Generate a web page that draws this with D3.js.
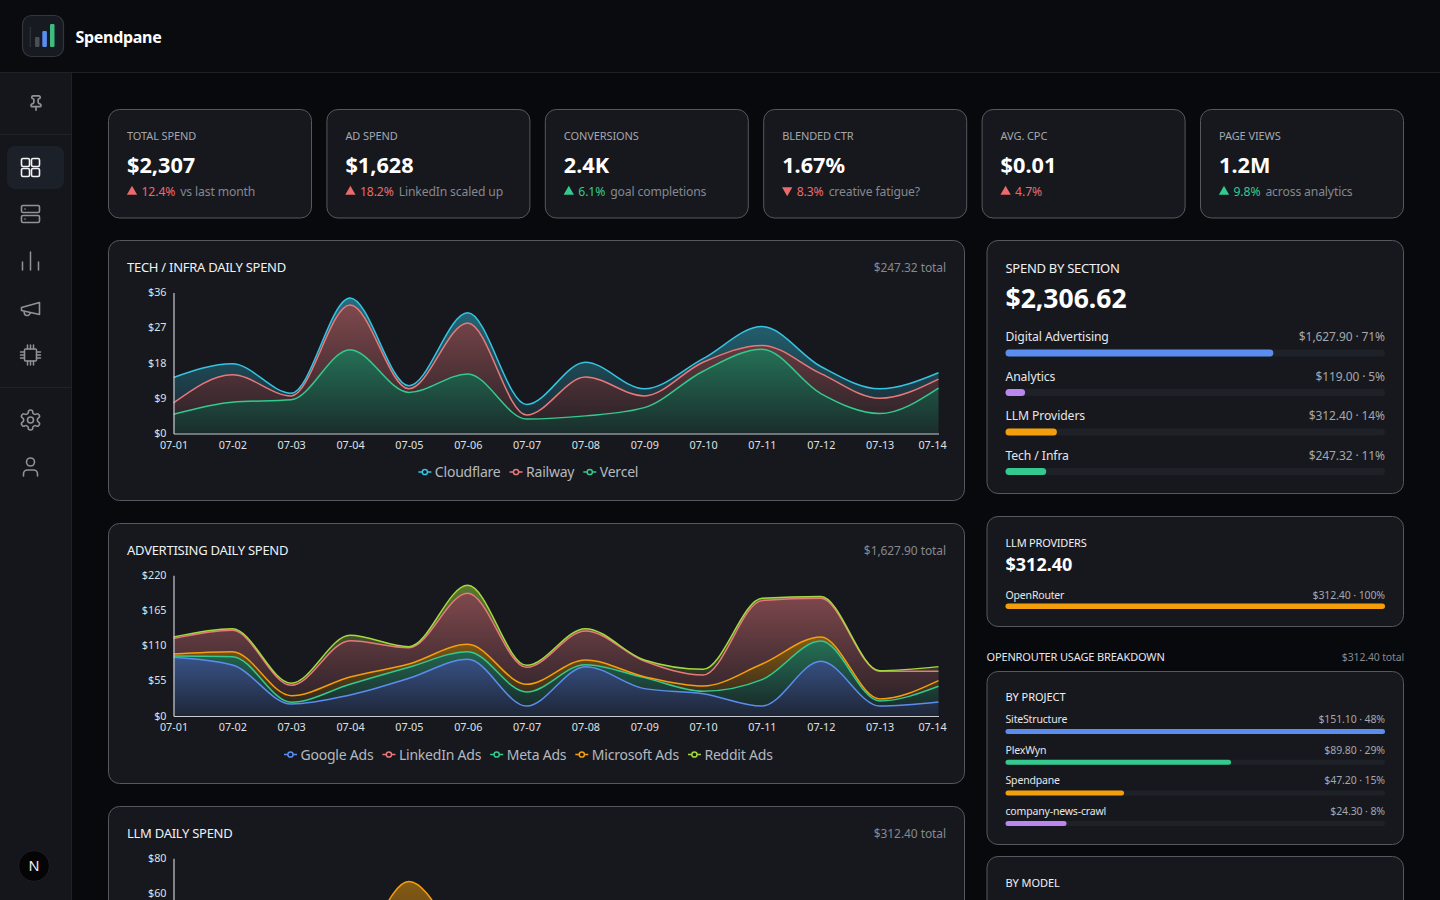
<!DOCTYPE html>
<html>
<head>
<meta charset="utf-8">
<script src="https://cdnjs.cloudflare.com/ajax/libs/d3/7.8.5/d3.min.js"></script>
<style>
  html, body { margin: 0; height: 100%; overflow: hidden; background: #08090d; }
  svg { display: block; font-family: "Noto Sans", sans-serif; }
  .tick text { font-family: "Noto Sans", sans-serif; }
</style>
</head>
<body>
<script>
var days = ['07-01','07-02','07-03','07-04','07-05','07-06','07-07','07-08','07-09','07-10','07-11','07-12','07-13','07-14'];

// stacked amounts per day
var vercel     = [4.9, 8.0, 8.6, 21.4, 10.5, 15.2, 3.7, 4.5, 6.6, 15.9, 21.5, 10.2, 5.1, 11.6];
var railway    = [2.9, 7.0, 1.0, 11.4, 0.9, 13.0, 1.0, 9.9, 3.0, 2.3, 1.0, 5.1, 3.9, 2.3];
var cloudflare = [6.5, 2.8, 0.7, 1.8, 0.8, 2.6, 2.7, 3.8, 1.8, 0.9, 4.8, 1.8, 2.4, 1.6];

var googleAds    = [91.8, 79.8, 18.8, 32.8, 58.9, 88.6, 15.6, 77.2, 42.8, 34.9, 15.6, 85.5, 15.6, 21.9];
var metaAds      = [2.0, 13.0, 2.6, 16.7, 17.2, 12.0, 21.9, 3.1, 17.2, 3.7, 41.2, 31.8, 7.9, 24.5];
var microsoftAds = [3.2, 7.8, 10.4, 11.5, 5.2, 11.4, 12.0, 7.3, 1.5, 8.3, 24.5, 6.3, 3.1, 8.9];
var linkedinAds  = [24.0, 33.4, 16.2, 56.8, 25.6, 79.9, 26.6, 45.4, 24.5, 17.2, 99.1, 60.4, 43.3, 14.6];
var redditAds    = [2.6, 2.6, 3.1, 8.4, 1.5, 12.5, 3.1, 3.6, 1.6, 8.9, 3.6, 2.7, 1.0, 7.3];

// only the 07-05 peak of this one is on screen, the rest is a guess
var openRouter = [12, 18, 14, 22, 66.6, 28, 12, 20, 15, 14, 22, 25, 20, 24];

var kpiLabels = ['TOTAL SPEND','AD SPEND','CONVERSIONS','BLENDED CTR','AVG. CPC','PAGE VIEWS'];
var kpiValues = ['$2,307','$1,628','2.4K','1.67%','$0.01','1.2M'];
var kpiDeltas = ['12.4%','18.2%','6.1%','8.3%','4.7%','9.8%'];
var kpiNotes  = ['vs last month','LinkedIn scaled up','goal completions','creative fatigue?','','across analytics'];
var kpiDirs   = ['up','up','up','down','up','up'];
var kpiGood   = [false,false,true,false,false,true];

var sectionNames  = ['Digital Advertising','Analytics','LLM Providers','Tech / Infra'];
var sectionValues = [1627.90, 119.00, 312.40, 247.32];
var sectionShares = ['71%','5%','14%','11%'];

var projectNames  = ['SiteStructure','PlexWyn','Spendpane','company-news-crawl'];
var projectValues = [151.10, 89.80, 47.20, 24.30];
var projectShares = ['48%','29%','15%','8%'];

var BLUE = '#5b8def', RED = '#e8797b', GREEN = '#34c98f', CYAN = '#35c3e0', ORANGE = '#f59e0b', LIME = '#a3d93f', PURPLE = '#bb86f0';
var CARD = '#16181e', EDGE = '#55585f';

var svg = d3.select('body').append('svg').attr('width', 1440).attr('height', 900);
var defs = svg.append('defs');
var money = d3.format('$,.2f');

function card(x0, y0, x1, y1) {
  svg.append('rect')
    .attr('x', x0 + 0.5).attr('y', y0 + 0.5)
    .attr('width', x1 - x0 - 1).attr('height', y1 - y0 - 1)
    .attr('rx', 11)
    .attr('fill', CARD)
    .attr('stroke', EDGE);
}

function label(x, y, str, size, color, opts) {
  opts = opts || {};
  return svg.append('text')
    .attr('x', x).attr('y', y)
    .attr('font-size', size)
    .attr('fill', color)
    .attr('font-weight', opts.weight || 400)
    .attr('text-anchor', opts.anchor || 'start')
    .attr('letter-spacing', opts.ls || 0)
    .text(str);
}

// ---- shell
svg.append('rect').attr('width', 1440).attr('height', 72).attr('fill', '#0a0b0f');
svg.append('rect').attr('y', 72).attr('width', 72).attr('height', 828).attr('fill', '#14161c');
svg.append('line').attr('x1', 0).attr('x2', 1440).attr('y1', 72.5).attr('y2', 72.5).attr('stroke', '#1f2127');
svg.append('line').attr('x1', 71.5).attr('x2', 71.5).attr('y1', 72).attr('y2', 900).attr('stroke', '#1f2127');
svg.append('line').attr('x1', 0).attr('x2', 71).attr('y1', 134.5).attr('y2', 134.5).attr('stroke', '#1f2127');
svg.append('line').attr('x1', 0).attr('x2', 71).attr('y1', 387.5).attr('y2', 387.5).attr('stroke', '#1f2127');

// logo
svg.append('rect').attr('x', 22.5).attr('y', 15.5).attr('width', 41).attr('height', 41).attr('rx', 9)
  .attr('fill', '#171a20').attr('stroke', '#33363d').attr('stroke-width', 1.2);
svg.append('rect').attr('x', 29.5).attr('y', 27).attr('width', 1.6).attr('height', 20).attr('fill', '#2b2e35');
svg.append('rect').attr('x', 35).attr('y', 37).attr('width', 4.5).attr('height', 10).attr('rx', 1.2).attr('fill', '#4b4f57');
svg.append('rect').attr('x', 42.3).attr('y', 31).attr('width', 4.6).attr('height', 16).attr('rx', 1.2).attr('fill', BLUE);
svg.append('rect').attr('x', 50).attr('y', 24).attr('width', 4.5).attr('height', 23).attr('rx', 1.2).attr('fill', '#3ebd80');
label(75.5, 42.5, 'Spendpane', 16, '#ffffff', { weight: 700, ls: -0.3 });

// sidebar icons, lucide style outlines on a 24 box
svg.append('rect').attr('x', 7).attr('y', 146).attr('width', 57).attr('height', 43).attr('rx', 8).attr('fill', '#1c2028');

function icon(cx, cy, size, color, sw, draw) {
  var k = size / 24;
  var g = svg.append('g')
    .attr('transform', 'translate(' + (cx - size / 2) + ',' + (cy - size / 2) + ') scale(' + k + ')')
    .attr('fill', 'none').attr('stroke', color).attr('stroke-width', sw)
    .attr('stroke-linecap', 'round').attr('stroke-linejoin', 'round');
  draw.forEach(function (p) { g.append('path').attr('d', p); });
}
function box(x, y, w, h, r) {
  return 'M' + (x + r) + ' ' + y + 'h' + (w - 2 * r) + 'a' + r + ' ' + r + ' 0 0 1 ' + r + ' ' + r + 'v' + (h - 2 * r) +
    'a' + r + ' ' + r + ' 0 0 1 -' + r + ' ' + r + 'h-' + (w - 2 * r) + 'a' + r + ' ' + r + ' 0 0 1 -' + r + ' -' + r +
    'v-' + (h - 2 * r) + 'a' + r + ' ' + r + ' 0 0 1 ' + r + ' -' + r + 'z';
}
var MUTED = '#8f9299';
icon(36, 103, 17, MUTED, 2.4, ['M12 17v5','M9 10.76a2 2 0 0 1-1.11 1.79l-1.78.9A2 2 0 0 0 5 15.24V16a1 1 0 0 0 1 1h12a1 1 0 0 0 1-1v-.76a2 2 0 0 0-1.11-1.79l-1.78-.9A2 2 0 0 1 15 10.76V7a1 1 0 0 1 1-1 2 2 0 0 0 0-4H8a2 2 0 0 0 0 4 1 1 0 0 1 1 1z']);
icon(30.5, 167.5, 24, '#f2f3f5', 1.6, [box(3,3,8,8,1.5), box(13,3,8,8,1.5), box(3,13,8,8,1.5), box(13,13,8,8,1.5)]);
icon(30.5, 214, 24, MUTED, 1.6, [box(3,3.5,18,7,1.5), box(3,13.5,18,7,1.5), 'M6.5 7h.01', 'M6.5 17h.01']);
icon(30.5, 261, 24, MUTED, 1.5, ['M4 21v-8', 'M12 21V3', 'M20 21v-8']);
icon(30.5, 308.5, 24, MUTED, 1.6, ['m3 11 18-5v12L3 14v-3z', 'M11.6 16.8a3 3 0 1 1-5.8-1.6']);
icon(30.5, 355, 24, MUTED, 1.5, [box(6,6,12,12,1), 'M9 2v4','M12 2v4','M15 2v4','M9 18v4','M12 18v4','M15 18v4','M2 9h4','M2 12h4','M2 15h4','M18 9h4','M18 12h4','M18 15h4']);
icon(30.5, 420, 24, MUTED, 1.6, ['M12.22 2h-.44a2 2 0 0 0-2 2v.18a2 2 0 0 1-1 1.73l-.43.25a2 2 0 0 1-2 0l-.15-.08a2 2 0 0 0-2.73.73l-.22.38a2 2 0 0 0 .73 2.73l.15.1a2 2 0 0 1 1 1.72v.51a2 2 0 0 1-1 1.74l-.15.09a2 2 0 0 0-.73 2.73l.22.38a2 2 0 0 0 2.73.73l.15-.08a2 2 0 0 1 2 0l.43.25a2 2 0 0 1 1 1.73V20a2 2 0 0 0 2 2h.44a2 2 0 0 0 2-2v-.18a2 2 0 0 1 1-1.73l.43-.25a2 2 0 0 1 2 0l.15.08a2 2 0 0 0 2.73-.73l.22-.39a2 2 0 0 0-.73-2.73l-.15-.08a2 2 0 0 1-1-1.74v-.5a2 2 0 0 1 1-1.74l.15-.09a2 2 0 0 0 .73-2.73l-.22-.38a2 2 0 0 0-2.73-.73l-.15.08a2 2 0 0 1-2 0l-.43-.25a2 2 0 0 1-1-1.73V4a2 2 0 0 0-2-2z','M15 12a3 3 0 1 1-6 0 3 3 0 0 1 6 0z']);
icon(30.5, 467, 24, MUTED, 1.6, ['M19 21v-2a4 4 0 0 0-4-4H9a4 4 0 0 0-4 4v2','M16 7a4 4 0 1 1-8 0 4 4 0 0 1 8 0z']);

// next badge
svg.append('circle').attr('cx', 34).attr('cy', 866).attr('r', 15.5).attr('fill', '#050505').attr('stroke', '#1d1f24');
label(34, 871, 'N', 14.5, '#f2f2f2', { anchor: 'middle' });

// ---- kpi row
var kpiLeft  = [108, 326.4, 544.8, 763.2, 981.6, 1200];
kpiLabels.forEach(function (name, i) {
  var x = kpiLeft[i] + 19;
  var tone = kpiGood[i] ? GREEN : '#ea6a6e';
  card(kpiLeft[i], 109, kpiLeft[i] + 204, 218.5);
  label(x, 140, name, 11, '#a4a7ad', { ls: -0.1 });
  label(x, 172.5, kpiValues[i], 21.7, '#ffffff', { weight: 700 });
  svg.append('path')
    .attr('d', d3.symbol(d3.symbolTriangle, 46))
    .attr('transform', 'translate(' + (x + 5) + ',' + (kpiDirs[i] === 'up' ? 191.7 : 190.3) + ')' + (kpiDirs[i] === 'up' ? '' : ' rotate(180)'))
    .attr('fill', tone);
  var d = label(x + 14.5, 195.5, kpiDeltas[i], 12.2, tone, { ls: -0.1 });
  label(x + 14.5 + d.node().getComputedTextLength() + 5, 195.5, kpiNotes[i], 12.2, '#85888f', { ls: -0.15 });
});

// ---- stacked area panels
function areaPanel(opts) {
  card(108, opts.top, 965, opts.bottom);
  label(127, opts.top + 32.4, opts.title, 13, '#f0f1f3', { ls: -0.27 });
  label(946, opts.top + 32.4, opts.total, 12, '#85888f', { anchor: 'end', ls: -0.08 });

  var x = d3.scalePoint().domain(days).range([173.5, 938.5]);
  var y = d3.scaleLinear().domain([0, opts.max]).range([opts.y0, opts.y1]);

  var rows = days.map(function (d, i) {
    var r = { day: d };
    opts.series.forEach(function (s) { r[s.name] = s.values[i]; });
    return r;
  });
  var stacked = d3.stack().keys(opts.series.map(function (s) { return s.name; }))(rows);

  var area = d3.area()
    .x(function (d) { return x(d.data.day); })
    .y0(function (d) { return y(d[0]); })
    .y1(function (d) { return y(d[1]); })
    .curve(d3.curveMonotoneX);
  var line = area.lineY1();

  var g = svg.append('g');
  stacked.forEach(function (layer, i) {
    var s = opts.series[i];
    var id = opts.id + i;
    var grad = defs.append('linearGradient').attr('id', id).attr('x1', 0).attr('x2', 0).attr('y1', 0).attr('y2', 1);
    grad.append('stop').attr('offset', '0%').attr('stop-color', s.color).attr('stop-opacity', 0.5);
    grad.append('stop').attr('offset', '100%').attr('stop-color', s.color).attr('stop-opacity', 0.12);
    g.append('path').attr('d', area(layer)).attr('fill', 'url(#' + id + ')');
  });
  stacked.forEach(function (layer, i) {
    g.append('path').attr('d', line(layer)).attr('fill', 'none').attr('stroke', opts.series[i].color).attr('stroke-width', 1.5);
  });

  // whatever sits below the fold is not drawn
  var onScreen = opts.y0 < 900;
  if (onScreen) {
    var xAxis = svg.append('g')
      .attr('transform', 'translate(0,' + opts.y0 + ')')
      .call(d3.axisBottom(x).tickSize(0).tickPadding(7.5));
    xAxis.selectAll('text').attr('font-size', 10.8).attr('fill', '#dfe1e4');
    xAxis.select('.tick:last-of-type text').attr('x', -6.5);
    xAxis.select('.domain').attr('stroke', '#c9cbd0').attr('stroke-width', 1.2);
  }

  var yAxis = svg.append('g')
    .attr('transform', 'translate(173.5,0)')
    .call(d3.axisLeft(y)
      .tickValues(opts.ticks.filter(function (t) { return y(t) < 895; }))
      .tickFormat(function (d) { return '$' + d; })
      .tickSize(0).tickPadding(7));
  yAxis.selectAll('text').attr('font-size', 10.8).attr('fill', '#dfe1e4').attr('y', -0.4);
  yAxis.select('.domain').attr('stroke', '#c9cbd0').attr('stroke-width', 1.2);

  if (!onScreen) return;

  // legend, centred under the plot
  var names = opts.legend || opts.series;
  var lg = svg.append('g');
  var pos = 0;
  names.forEach(function (s) {
    var it = lg.append('g').attr('transform', 'translate(' + pos + ',0)');
    it.append('line').attr('x1', 0).attr('x2', 13).attr('stroke', s.color).attr('stroke-width', 1.5);
    it.append('circle').attr('cx', 6.5).attr('r', 2.6).attr('fill', CARD).attr('stroke', s.color).attr('stroke-width', 1.5);
    var t = it.append('text').attr('x', 16.5).attr('y', 5).attr('font-size', 14).attr('letter-spacing', -0.22).attr('fill', '#b5b8be').text(s.name);
    pos += 16.5 + t.node().getComputedTextLength() + 9;
  });
  lg.attr('transform', 'translate(' + (528.3 - (pos - 9) / 2) + ',' + (opts.y0 + 38.5) + ')');
}

var tvSeries = [
  { name: 'Vercel', values: vercel, color: GREEN },
  { name: 'Railway', values: railway, color: RED },
  { name: 'Cloudflare', values: cloudflare, color: CYAN }
];
areaPanel({
  id: 'tech', top: 240, bottom: 501, title: 'TECH / INFRA DAILY SPEND', total: '$247.32 total',
  max: 36, ticks: [0, 9, 18, 27, 36], y0: 433.5, y1: 292.5,
  series: tvSeries, legend: tvSeries.slice().reverse()
});
areaPanel({
  id: 'ads', top: 523, bottom: 784, title: 'ADVERTISING DAILY SPEND', total: '$1,627.90 total',
  max: 220, ticks: [0, 55, 110, 165, 220], y0: 716, y1: 575.3,
  series: [
    { name: 'Google Ads', values: googleAds, color: BLUE },
    { name: 'Meta Ads', values: metaAds, color: GREEN },
    { name: 'Microsoft Ads', values: microsoftAds, color: ORANGE },
    { name: 'LinkedIn Ads', values: linkedinAds, color: RED },
    { name: 'Reddit Ads', values: redditAds, color: LIME }
  ],
  legend: [
    { name: 'Google Ads', color: BLUE },
    { name: 'LinkedIn Ads', color: RED },
    { name: 'Meta Ads', color: GREEN },
    { name: 'Microsoft Ads', color: ORANGE },
    { name: 'Reddit Ads', color: LIME }
  ]
});
areaPanel({
  id: 'llm', top: 806, bottom: 1067, title: 'LLM DAILY SPEND', total: '$312.40 total',
  max: 80, ticks: [0, 20, 40, 60, 80], y0: 997.5, y1: 858.3,
  series: [{ name: 'OpenRouter', values: openRouter, color: ORANGE }]
});

// ---- progress lists
function barRow(xScale, yText, name, right, value, color, sizes) {
  label(1005.5, yText, name, sizes.font, '#e6e7ea', { ls: sizes.ls });
  label(1385, yText, right, sizes.rfont, '#a4a7ad', { anchor: 'end', ls: -0.1 });
  var yb = yText + sizes.gap;
  svg.append('rect').attr('x', 1005.5).attr('y', yb).attr('width', 379.5).attr('height', sizes.h)
    .attr('rx', sizes.h / 2).attr('fill', '#1e2128');
  svg.append('rect').attr('x', xScale(0)).attr('y', yb).attr('width', xScale(value) - xScale(0)).attr('height', sizes.h)
    .attr('rx', sizes.h / 2).attr('fill', color);
}

card(986.5, 240, 1404, 494);
label(1005.5, 272.5, 'SPEND BY SECTION', 13, '#f0f1f3', { ls: -0.27 });
label(1005.5, 308, '$2,306.62', 26.5, '#ffffff', { weight: 700 });
var sectionX = d3.scaleLinear().domain([0, d3.sum(sectionValues)]).range([1005.5, 1385]);
var sectionColors = [BLUE, PURPLE, ORANGE, GREEN];
sectionNames.forEach(function (n, i) {
  barRow(sectionX, 341 + i * 39.5, n, money(sectionValues[i]) + ' · ' + sectionShares[i], sectionValues[i], sectionColors[i], { font: 12.2, rfont: 12, ls: -0.1, gap: 8.5, h: 7 });
});

card(986.5, 516, 1404, 627);
label(1005.5, 546.5, 'LLM PROVIDERS', 11, '#f0f1f3', { ls: -0.2 });
label(1005.5, 570.5, '$312.40', 18, '#ffffff', { weight: 700 });
var orX = d3.scaleLinear().domain([0, 312.40]).range([1005.5, 1385]);
barRow(orX, 598.5, 'OpenRouter', '$312.40 · 100%', 312.40, ORANGE, { font: 10.5, rfont: 10.5, ls: -0.17, gap: 5, h: 5.5 });

label(986.5, 661, 'OPENROUTER USAGE BREAKDOWN', 11, '#e6e7ea', { ls: -0.15 });
label(1404, 661, '$312.40 total', 10.5, '#85888f', { anchor: 'end', ls: -0.15 });

card(986.5, 671, 1404, 845);
label(1005.5, 701, 'BY PROJECT', 11, '#f0f1f3', { ls: -0.05 });
var projectX = d3.scaleLinear().domain([0, d3.max(projectValues)]).range([1005.5, 1385]);
var projectColors = [BLUE, GREEN, ORANGE, PURPLE];
projectNames.forEach(function (n, i) {
  barRow(projectX, 723 + i * 30.7, n, money(projectValues[i]) + ' · ' + projectShares[i], projectValues[i], projectColors[i], { font: 10.5, rfont: 10.5, ls: -0.17, gap: 6, h: 5 });
});

card(986.5, 856, 1404, 1000);
label(1005.5, 887, 'BY MODEL', 11, '#f0f1f3', { ls: -0.05 });
</script>
</body>
</html>
